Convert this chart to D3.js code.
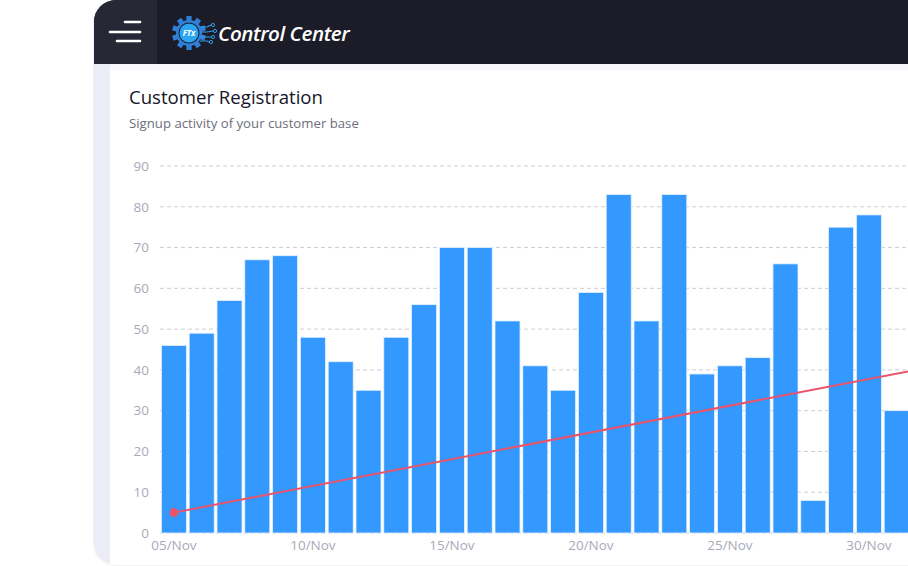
<!DOCTYPE html>
<html>
<head>
<meta charset="utf-8">
<script src="https://cdn.jsdelivr.net/npm/d3@7"></script>
<style>
  html,body{margin:0;padding:0;background:#fff;overflow:hidden;}
  svg{display:block;font-family:"Open Sans",sans-serif;}
</style>
</head>
<body>
<svg id="chart" width="908" height="566"></svg>
<script>
// signups per day
const days=["05/Nov","06/Nov","07/Nov","08/Nov","09/Nov","10/Nov","11/Nov","12/Nov","13/Nov","14/Nov",
  "15/Nov","16/Nov","17/Nov","18/Nov","19/Nov","20/Nov","21/Nov","22/Nov","23/Nov","24/Nov",
  "25/Nov","26/Nov","27/Nov","28/Nov","29/Nov","30/Nov","01/Dec"];
const signups=[46,49,57,67,68,48,42,35,48,56,70,70,52,41,35,59,83,52,83,39,41,43,66,8,75,78,30];
const tickDays=["05/Nov","10/Nov","15/Nov","20/Nov","25/Nov","30/Nov"];
const yTicks=[0,10,20,30,40,50,60,70,80,90];
// trend line end points (day index, value)
const trendDays=[0,27];
const trendValues=[5,40.4];

const svg=d3.select('#chart');
const W=908,H=566;

// frame
const defs=svg.append('defs');
defs.append('clipPath').attr('id','frame')
  .append('rect').attr('x',94).attr('y',0).attr('width',860).attr('height',565).attr('rx',22);
const shadow=defs.append('filter').attr('id','sh').attr('x','-5%').attr('y','-5%').attr('width','110%').attr('height','110%');
shadow.append('feDropShadow').attr('dx',0).attr('dy',0).attr('stdDeviation',1.2).attr('flood-color','#8a8aa0').attr('flood-opacity',0.3);

svg.append('rect').attr('x',94).attr('y',0).attr('width',860).attr('height',565).attr('rx',22)
  .attr('fill','#fff').attr('filter','url(#sh)');

const frame=svg.append('g').attr('clip-path','url(#frame)');
frame.append('rect').attr('x',94).attr('y',64).attr('width',16).attr('height',H).attr('fill','#ececf6');
frame.append('rect').attr('x',110).attr('y',64).attr('width',W).attr('height',6).attr('fill','#f6f6fb');
frame.append('rect').attr('x',94).attr('y',0).attr('width',W).attr('height',64).attr('fill','#1c1c28');
frame.append('rect').attr('x',94).attr('y',0).attr('width',63).attr('height',64).attr('fill','#262836');

// menu icon
const menu=[[125,22],[110,32],[117,41]];
frame.selectAll('line.menu').data(menu).enter().append('line')
  .attr('class','menu')
  .attr('x1',d=>d[0]).attr('x2',140).attr('y1',d=>d[1]).attr('y2',d=>d[1])
  .attr('stroke','#fff').attr('stroke-width',2.6).attr('stroke-linecap','round');

// logo gear
const logo=frame.append('g').attr('transform','translate(189,33)');
for(let i=0;i<10;i++){
  logo.append('rect').attr('x',-2.6).attr('y',-17).attr('width',5.2).attr('height',6)
    .attr('fill','#2f7fd8').attr('transform','rotate('+(i*36)+')');
}
logo.append('circle').attr('r',13).attr('fill','#2f7fd8');
logo.append('circle').attr('r',10.5).attr('fill','#1c1c28');
logo.append('circle').attr('r',9.5).attr('fill','#2aa6f2');
logo.append('text').attr('x',0).attr('y',3).attr('text-anchor','middle')
  .attr('fill','#fff').attr('font-size',8).attr('font-weight',700).attr('font-style','italic').text('FTx');
const circuit=[[-6,24,-8],[-1,26,-2],[4,24,4],[8,22,9]];
circuit.forEach(c=>{
  logo.append('path').attr('d','M11,'+c[0]+' L18,'+c[0]+' L'+(c[1]-2)+','+c[2])
    .attr('fill','none').attr('stroke','#2f9be8').attr('stroke-width',1.1);
  logo.append('circle').attr('cx',c[1]).attr('cy',c[2]).attr('r',1.6)
    .attr('fill','none').attr('stroke','#2f9be8').attr('stroke-width',1);
});
frame.append('text').attr('x',218).attr('y',41)
  .attr('fill','#fff').attr('font-size',20.6).attr('font-style','italic').attr('font-weight',600)
  .attr('letter-spacing','-0.45').text('Control Center');

// titles
frame.append('text').attr('x',129).attr('y',104).attr('fill','#161628')
  .attr('font-size',18.6).attr('font-weight',500).text('Customer Registration');
frame.append('text').attr('x',129).attr('y',128).attr('fill','#6e6e7c')
  .attr('font-size',13.2).text('Signup activity of your customer base');

// scales
const x=d3.scaleBand().domain(days).range([160,160+27.8*days.length]).paddingInner(0.1).paddingOuter(0.05);
const y=d3.scaleLinear().domain([0,90]).range([533,166]);

// grid + y labels
const grid=frame.append('g');
grid.selectAll('line').data(yTicks).enter().append('line')
  .attr('x1',160).attr('x2',W).attr('y1',d=>y(d)).attr('y2',d=>y(d))
  .attr('stroke','#cdcdd2').attr('stroke-width',1).attr('stroke-dasharray','4,3');

const yAxis=frame.append('g').attr('transform','translate(149,0)')
  .call(d3.axisLeft(y).tickValues(yTicks).tickSize(0).tickPadding(0));
yAxis.select('.domain').remove();
yAxis.selectAll('text').attr('fill','#a9a9b8').attr('font-size',13.5).attr('font-family','"Open Sans",sans-serif');

// bars
frame.append('g').selectAll('rect').data(days).enter().append('rect')
  .attr('x',d=>x(d)).attr('y',(d,i)=>y(signups[i]))
  .attr('width',x.bandwidth()).attr('height',(d,i)=>y(0)-y(signups[i]))
  .attr('fill','#3399ff').attr('stroke','#e6f1ff').attr('stroke-width',0.8);

// x axis labels
const xAxis=frame.append('g').attr('transform','translate(0,538)')
  .call(d3.axisBottom(x).tickValues(tickDays).tickSize(0).tickPadding(0));
xAxis.select('.domain').remove();
xAxis.selectAll('text').attr('fill','#a9a9b8').attr('font-size',13.5).attr('font-family','"Open Sans",sans-serif')
  .attr('dy','0.9em');

// trend line
const tx=i=>x(days[0])+x.bandwidth()/2+i*x.step();
const trend=d3.line().x((d,i)=>tx(d)).y((d,i)=>y(trendValues[i]));
frame.append('path').datum(trendDays).attr('d',trend)
  .attr('fill','none').attr('stroke','#e9546b').attr('stroke-width',2);
frame.append('circle').attr('cx',tx(trendDays[0])).attr('cy',y(trendValues[0])).attr('r',4.5).attr('fill','#e9546b');
</script>
</body>
</html>
